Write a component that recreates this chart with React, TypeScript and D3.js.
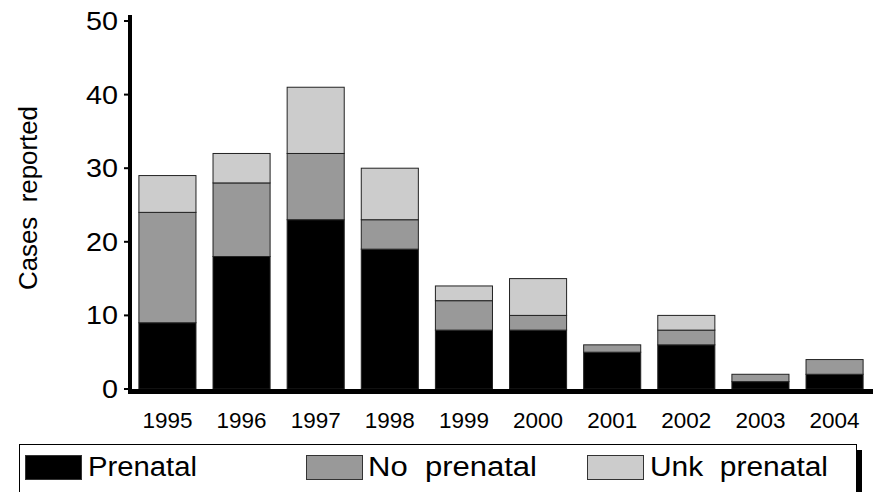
import React from "react";
import * as d3 from "d3";

const years = ["1995", "1996", "1997", "1998", "1999", "2000", "2001", "2002", "2003", "2004"];
const prenatal = [9, 18, 23, 19, 8, 8, 5, 6, 1, 2];
const noPrenatal = [15, 10, 9, 4, 4, 2, 1, 2, 1, 2];
const unkPrenatal = [5, 4, 9, 7, 2, 5, 0, 2, 0, 0];
const seriesNames = ["Prenatal", "No  prenatal", "Unk  prenatal"];
const seriesColors = ["#000000", "#999999", "#cccccc"];
const yTicks = [0, 10, 20, 30, 40, 50];

const W = 878;
const H = 492;

export default function App() {
  const x = d3.scaleBand<string>().domain(years).range([130, 872]).paddingInner(0.23).paddingOuter(0.12);
  const y = d3.scaleLinear().domain([0, 50]).range([389, 21]);

  const rows = years.map((yr, i) => ({ year: yr, p: prenatal[i], n: noPrenatal[i], u: unkPrenatal[i] }));
  const stack = d3.stack<any>().keys(["p", "n", "u"])(rows);

  const font = "'Liberation Sans', Arial, Helvetica, sans-serif";
  const legendItems = [
    { sx: 25, tx: 88, tl: 109 },
    { sx: 306, tx: 368, tl: 169 },
    { sx: 587, tx: 650, tl: 178 },
  ];

  return (
    <svg width={W} height={H} style={{ position: "absolute", left: 0, top: 0, background: "#fff" }} fontFamily={font}>
      {/* bars */}
      {stack.map((layer, li) =>
        layer.map((d, i) => {
          const h = y(d[0]) - y(d[1]);
          if (h <= 0) return null;
          return (
            <rect
              key={`${li}-${i}`}
              x={x(years[i])!}
              y={y(d[1])}
              width={x.bandwidth()}
              height={h}
              fill={seriesColors[li]}
              stroke="#222"
              strokeWidth={1}
            />
          );
        })
      )}
      {/* y axis */}
      <line x1={130} x2={130} y1={15} y2={394} stroke="#000" strokeWidth={4} />
      {yTicks.map((t) => (
        <g key={t}>
          <line x1={124} x2={130} y1={y(t)} y2={y(t)} stroke="#000" strokeWidth={2} />
          <text
            x={118}
            y={y(t)}
            dy="0.36em"
            textAnchor="end"
            fontSize={25}
            fill="#000"
            textLength={String(t).length * 16}
            lengthAdjust="spacingAndGlyphs"
          >
            {t}
          </text>
        </g>
      ))}
      {/* x axis */}
      <line x1={128} x2={873} y1={391.5} y2={391.5} stroke="#000" strokeWidth={5} />
      {years.map((yr) => (
        <text
          key={yr}
          x={x(yr)! + x.bandwidth() / 2}
          y={428}
          textAnchor="middle"
          fontSize={22}
          fill="#000"
          textLength={50}
          lengthAdjust="spacingAndGlyphs"
        >
          {yr}
        </text>
      ))}
      {/* y title */}
      <text
        transform={`translate(37,198) rotate(-90)`}
        textAnchor="middle"
        fontSize={26}
        fill="#000"
        textLength={184}
        lengthAdjust="spacingAndGlyphs"
        style={{ whiteSpace: "pre" }}
      >
        Cases  reported
      </text>
      {/* legend */}
      <rect x={857} y={450} width={5} height={50} fill="#000" />
      <rect x={19.5} y={444.5} width={837} height={60} fill="#fff" stroke="#000" strokeWidth={1} />
      {seriesNames.map((name, i) => (
        <g key={name}>
          <rect
            x={legendItems[i].sx + 0.5}
            y={455.5}
            width={56}
            height={24}
            fill={seriesColors[i]}
            stroke="#333"
            strokeWidth={1}
          />
          <text
            x={legendItems[i].tx}
            y={476}
            fontSize={27}
            fill="#000"
            textLength={legendItems[i].tl}
            lengthAdjust="spacingAndGlyphs"
            style={{ whiteSpace: "pre" }}
          >
            {name}
          </text>
        </g>
      ))}
    </svg>
  );
}
